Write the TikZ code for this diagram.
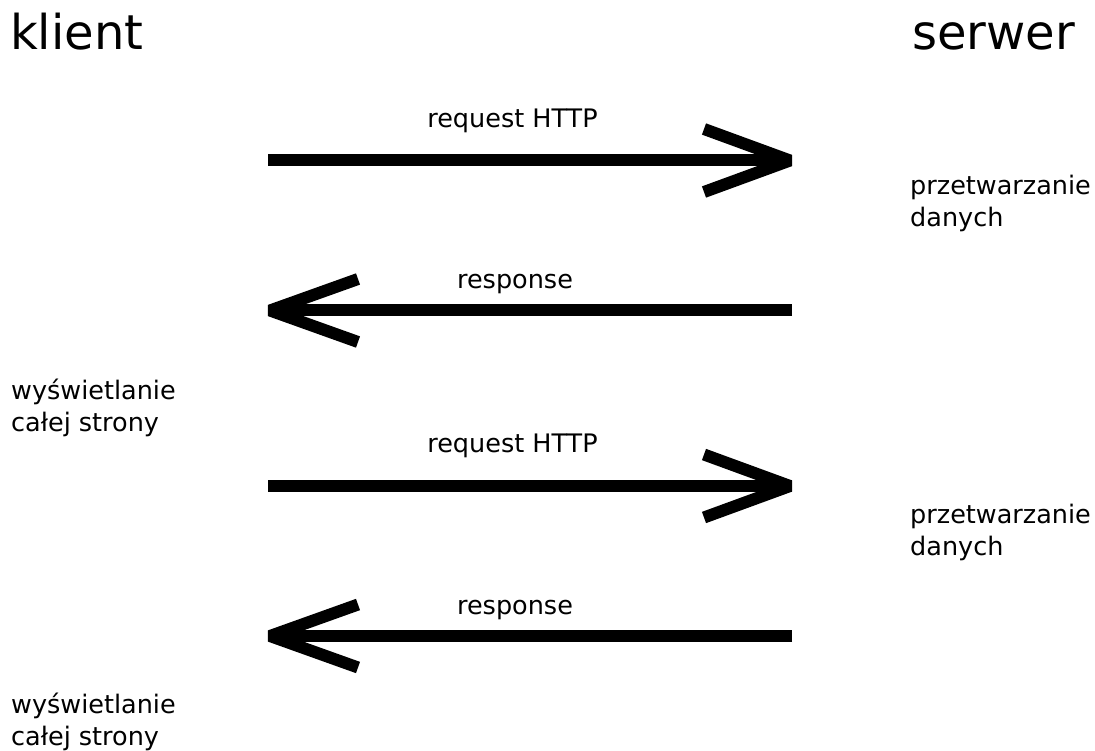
\documentclass[tikz,border=0pt]{standalone}
\usepackage{fontspec}
\setmainfont{DejaVu Sans}
\begin{document}
\begin{tikzpicture}[x=1pt,y=-1pt,
  shaft/.style={line width=12pt,line cap=butt},
  head/.style={line width=12pt,line cap=butt,line join=bevel},
  big/.style={inner sep=0pt,anchor=base west,font=\fontsize{48}{58}\selectfont},
  lbl/.style={inner sep=0pt,anchor=base,font=\fontsize{25.5}{31.5}\selectfont},
  note/.style={inner sep=0pt,anchor=base west,align=left,font=\fontsize{25.5}{32}\selectfont}]
\fill[white] (0,0) rectangle (1095,751);
\path[use as bounding box] (0,0) rectangle (1095,751);

\node[big] (klient) at (10,50) {klient};
\node[big] (serwer) at (912,50) {serwer};

% arrow 1: request
\coordinate (a1s) at (268,160.5);
\coordinate (a1e) at (790,160.5);
\draw[shaft] (a1s) -- ([xshift=-4pt]a1e);
\draw[head] ([shift={(-86,-31.5)}]a1e) -- (a1e) -- ([shift={(-86,31.5)}]a1e);
\node[lbl] (l1) at (512.5,128) {request HTTP};

% arrow 2: response
\coordinate (a2s) at (792,310.5);
\coordinate (a2e) at (270,310.5);
\draw[shaft] (a2s) -- ([xshift=4pt]a2e);
\draw[head] ([shift={(88,-31.5)}]a2e) -- (a2e) -- ([shift={(88,31.5)}]a2e);
\node[lbl] (l2) at (515,289) {response};

% arrow 3: request
\coordinate (a3s) at (268,486);
\coordinate (a3e) at (790,486);
\draw[shaft] (a3s) -- ([xshift=-4pt]a3e);
\draw[head] ([shift={(-86,-31.5)}]a3e) -- (a3e) -- ([shift={(-86,31.5)}]a3e);
\node[lbl] (l3) at (512.5,452) {request HTTP};

% arrow 4: response
\coordinate (a4s) at (792,636);
\coordinate (a4e) at (270,636);
\draw[shaft] (a4s) -- ([xshift=4pt]a4e);
\draw[head] ([shift={(88,-31.5)}]a4e) -- (a4e) -- ([shift={(88,31.5)}]a4e);
\node[lbl] (l4) at (515,614) {response};

\node[note] (p1) at (910,227) {przetwarzanie\\danych};
\node[note] (p2) at (910,555) {przetwarzanie\\danych};
\node[note] (w1) at (11,431) {wyświetlanie\\całej strony};
\node[note] (w2) at (11,745) {wyświetlanie\\całej strony};
\end{tikzpicture}
\end{document}
